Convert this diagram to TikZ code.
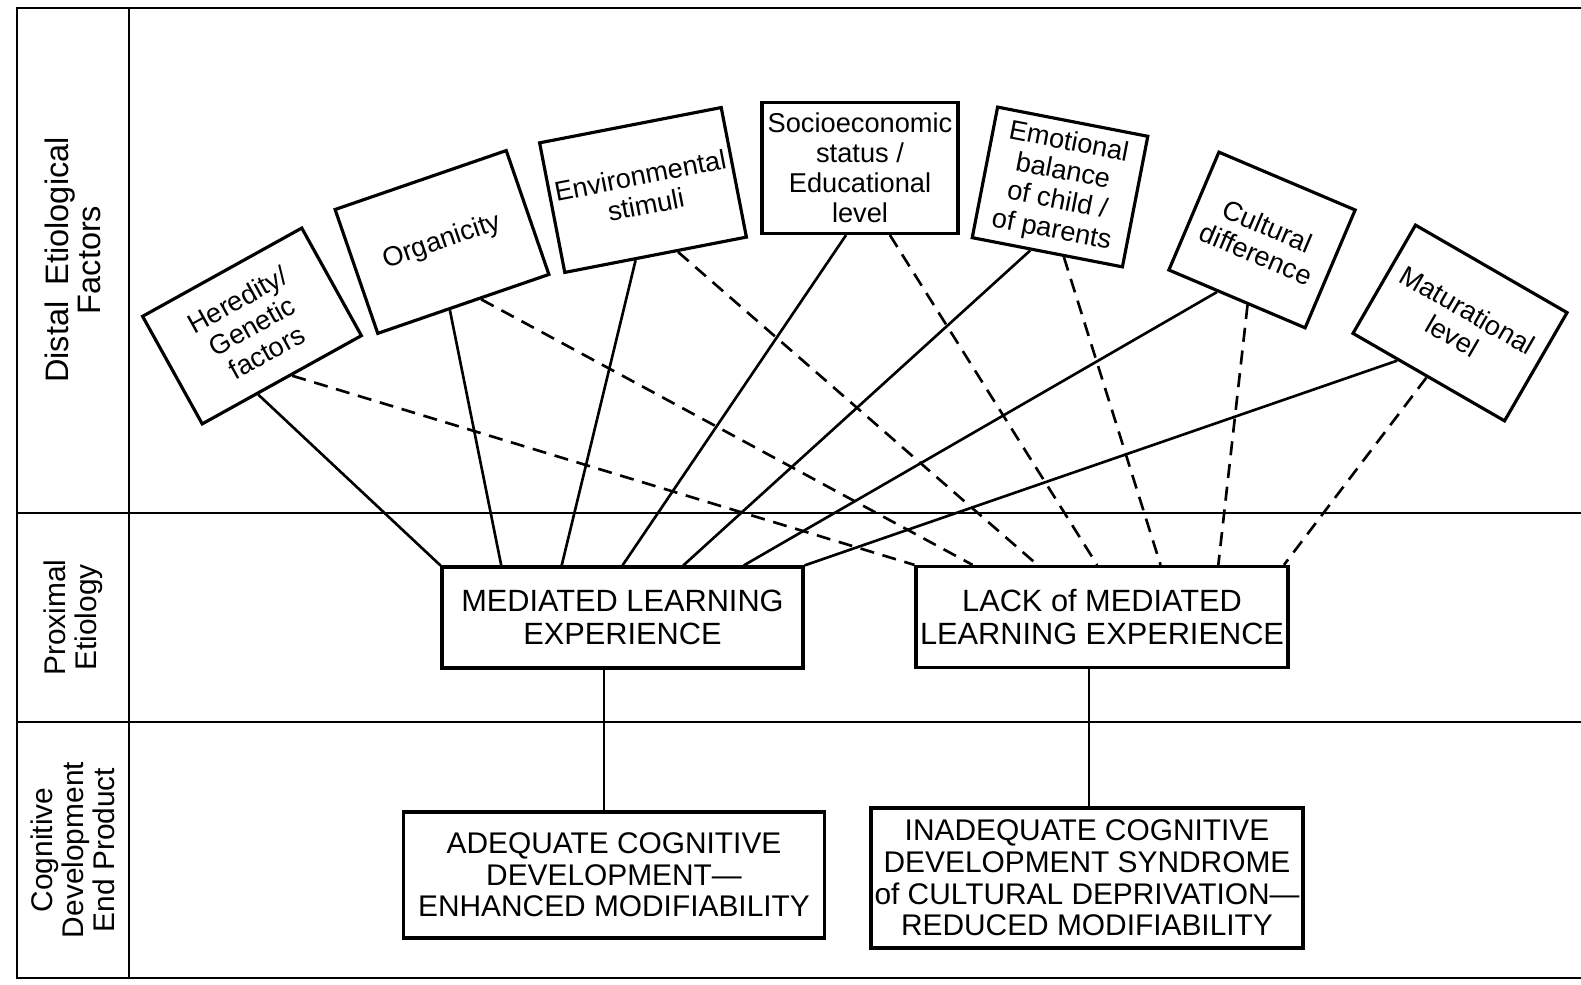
\documentclass[tikz,border=0pt]{standalone}
\usepackage{fontspec}
\setmainfont{Liberation Sans}
\usetikzlibrary{positioning,calc}
\tikzstyle{fac}=[draw, line width=1.8pt, align=center, inner sep=1pt, font=\fontsize{15.5}{17}\selectfont]
\tikzstyle{mid}=[draw, line width=1.8pt, align=center, inner sep=1pt, minimum height=2.02cm, font=\fontsize{17.5}{19}\selectfont]
\tikzstyle{prod}=[draw, line width=1.8pt, align=center, inner sep=1pt, font=\fontsize{17}{18}\selectfont]
\tikzstyle{lab}=[rotate=90, align=center, font=\fontsize{17}{17.5}\selectfont]
\tikzstyle{link}=[line width=1.5pt]
\tikzstyle{nolink}=[line width=1.5pt, dash pattern=on 8pt off 5pt]

\begin{document}
\begin{tikzpicture}
\useasboundingbox (0,0) rectangle (31.62,19.7);
% frame and rows
\draw[line width=1.5pt] (31.62,19.54) -- (0.34,19.54) -- (0.34,0.14) -- (31.62,0.14);
\draw[line width=1.5pt] (2.58,19.54) -- (2.58,0.14);
\draw[line width=1.5pt] (0.34,9.44) -- (31.62,9.44);
\draw[line width=1.5pt] (0.34,5.26) -- (31.62,5.26);

\node[lab, font=\fontsize{18.5}{18}\selectfont] at (1.46,14.5) (distal) {Distal\hspace{0.5em}Etiological\\Factors};
\node[lab] at (1.46,7.35) (proximal) {Proximal\\Etiology};
\node[lab] at (1.46,2.7) (endprod) {Cognitive\\Development\\End Product};

% distal factors
\node[fac, rotate=29, minimum width=3.64cm, minimum height=2.46cm] at (5.04,13.18) (her) {Heredity/\\Genetic\\factors};
\node[fac, rotate=19, minimum width=3.62cm, minimum height=2.62cm] at (8.84,14.86) (org) {Organicity};
\node[fac, rotate=11, minimum width=3.7cm, minimum height=2.64cm] at (12.86,15.9) (env) {Environmental\\stimuli};
\node[fac, minimum width=3.92cm, minimum height=2.62cm] at (17.2,16.34) (soc) {Socioeconomic\\status /\\Educational\\level};
\node[fac, rotate=-11, minimum width=3.06cm, minimum height=2.66cm] at (21.2,15.96) (emo) {Emotional\\balance\\of child /\\of parents};
\node[fac, rotate=-23, minimum width=2.96cm, minimum height=2.56cm] at (25.24,14.9) (cul) {Cultural\\difference};
\node[fac, rotate=-30, minimum width=3.5cm, minimum height=2.5cm] at (29.2,13.24) (mat) {Maturational\\level};

% proximal etiology
\node[mid, minimum width=7.22cm] at (12.45,7.35) (mle) {MEDIATED LEARNING\\EXPERIENCE};
\node[mid, minimum width=7.44cm] at (22.04,7.36) (lmle) {LACK of MEDIATED\\LEARNING EXPERIENCE};

% end products
\node[prod, below of = mle, node distance = 5.15cm, xshift=-0.17cm, minimum width=8.42cm, minimum height=2.52cm] (acd) {ADEQUATE COGNITIVE\\DEVELOPMENT—\\ENHANCED MODIFIABILITY};
\node[prod, below of = lmle, node distance = 5.22cm, xshift=-0.3cm, minimum width=8.64cm, minimum height=2.8cm] (iacd) {INADEQUATE COGNITIVE\\DEVELOPMENT SYNDROME\\of CULTURAL DEPRIVATION—\\REDUCED MODIFIABILITY};

\draw[link] ([xshift=-0.37cm]mle.south) -- ([xshift=-0.37cm]mle.south |- acd.north);
\draw[link] ([xshift=-0.26cm]lmle.south) -- ([xshift=-0.26cm]lmle.south |- iacd.north);

% solid: to mediated learning
\draw[link] ($(her.south west)!0.35!(her.south east)$) -- (mle.north west);
\draw[link] ($(org.south west)!0.42!(org.south east)$) -- ($(mle.north west)!0.167!(mle.north east)$);
\draw[link] ($(env.south west)!0.39!(env.south east)$) -- ($(mle.north west)!0.333!(mle.north east)$);
\draw[link] ($(soc.south west)!0.43!(soc.south east)$) -- ($(mle.north west)!0.5!(mle.north east)$);
\draw[link] ($(emo.south west)!0.39!(emo.south east)$) -- ($(mle.north west)!0.667!(mle.north east)$);
\draw[link] ($(cul.south west)!0.36!(cul.south east)$) -- ($(mle.north west)!0.833!(mle.north east)$);
\draw[link] ($(mat.south west)!0.30!(mat.south east)$) -- (mle.north east);

% dashed: to lack of mediated learning
\draw[nolink] ($(her.south west)!0.56!(her.south east)$) -- (lmle.north west);
\draw[nolink] ($(org.south west)!0.6!(org.south east)$) -- ($(lmle.north west)!0.155!(lmle.north east)$);
\draw[nolink] ($(env.south west)!0.62!(env.south east)$) -- ($(lmle.north west)!0.328!(lmle.north east)$);
\draw[nolink] ($(soc.south west)!0.65!(soc.south east)$) -- ($(lmle.north west)!0.487!(lmle.north east)$);
\draw[nolink] ($(emo.south west)!0.61!(emo.south east)$) -- ($(lmle.north west)!0.656!(lmle.north east)$);
\draw[nolink] ($(cul.south west)!0.58!(cul.south east)$) -- ($(lmle.north west)!0.81!(lmle.north east)$);
\draw[nolink] ($(mat.south west)!0.49!(mat.south east)$) -- ($(lmle.north west)!0.985!(lmle.north east)$);
\end{tikzpicture}
\end{document}
